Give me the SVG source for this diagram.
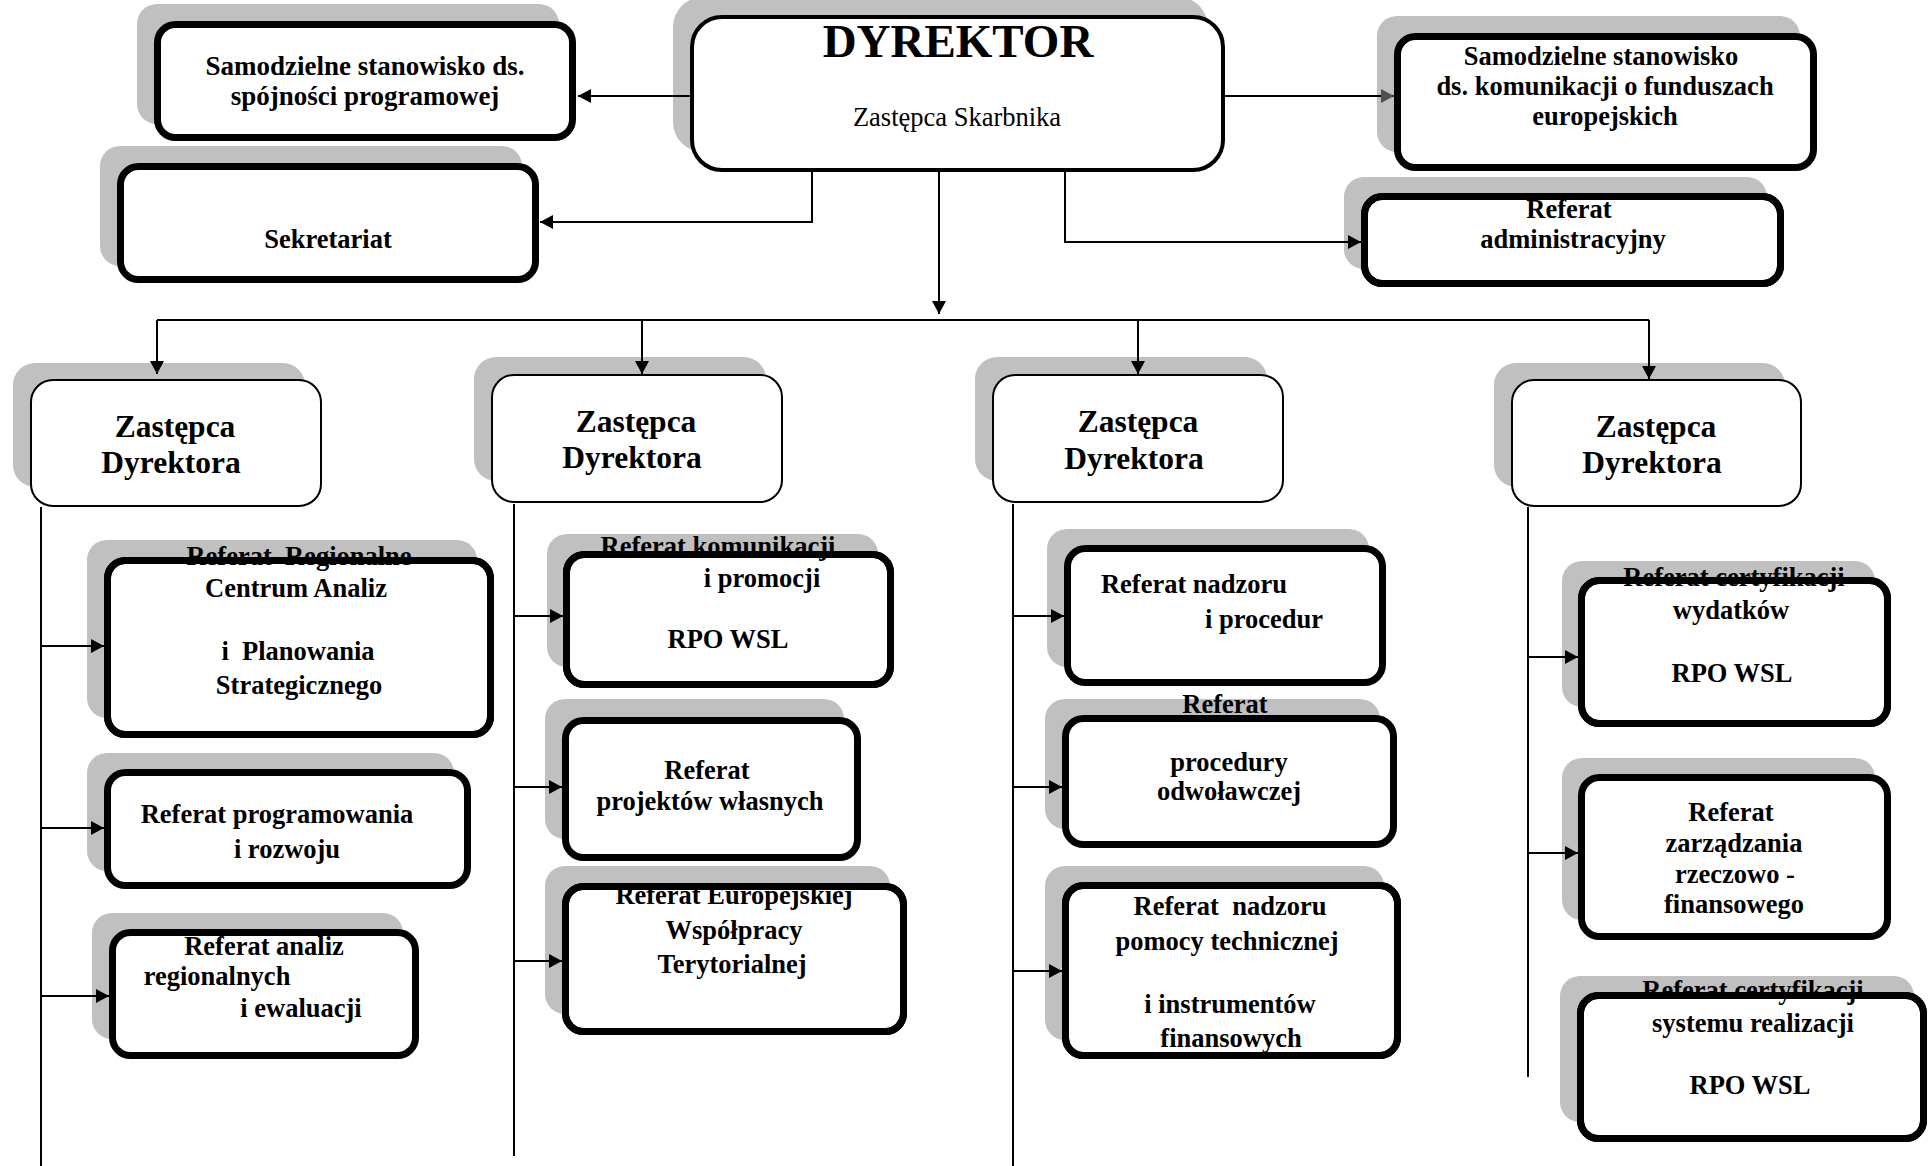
<svg xmlns="http://www.w3.org/2000/svg" width="1930" height="1166" viewBox="0 0 1930 1166">
<style>
.sh{fill:#c0c0c0}
.bx{fill:#fff;stroke:#000;stroke-width:7}
.ov{fill:none;stroke:#000;stroke-width:7}
.zd{fill:#fff;stroke:#000;stroke-width:2}
.dy{fill:#fff;stroke:#000;stroke-width:4}
.t{font-family:"Liberation Serif","Times New Roman",serif;font-weight:bold;font-size:26.5px;text-anchor:middle;fill:#000;white-space:pre}
.z{font-size:31.5px}
.r{font-weight:normal}
.c{fill:none;stroke:#000;stroke-width:2}
</style>
<defs>
<marker id="ah" markerUnits="userSpaceOnUse" markerWidth="14" markerHeight="14" refX="13" refY="7" orient="auto"><path d="M0,0 L13,7 L0,14 z" fill="#000"/></marker>
<marker id="ahg" markerUnits="userSpaceOnUse" markerWidth="14" markerHeight="14" refX="13" refY="7" orient="auto"><path d="M0,0 L13,7 L0,14 z" fill="#505050"/></marker>
</defs>
<rect width="1930" height="1166" fill="#fff"/>

<g id="dyrektor">
<rect class="sh" x="673" y="-3" width="535" height="155" rx="30"/>
<rect class="dy" x="692" y="17" width="531" height="153" rx="30"/>
<text class="t" x="958" y="57" style="font-size:47px">DYREKTOR</text>
<text class="t r" x="957" y="126">Zastępca Skarbnika</text>
</g>

<g id="spojnosci">
<rect class="sh" x="137" y="4" width="422" height="120" rx="20"/>
<rect class="bx" x="157.5" y="24.5" width="415" height="113" rx="18"/>
<text class="t" x="365" y="75" style="font-size:27px">Samodzielne stanowisko ds.</text>
<text class="t" x="365" y="105" style="font-size:27px">spójności programowej</text>
</g>

<g id="sekretariat">
<rect class="sh" x="100" y="146" width="422" height="120" rx="20"/>
<rect class="bx" x="120.5" y="166.5" width="415" height="113" rx="18"/>
<text class="t" x="328" y="248">Sekretariat</text>
</g>

<g id="komunikacji-fe">
<rect class="sh" x="1377" y="16" width="423" height="136" rx="20"/>
<rect class="bx" x="1397.5" y="36.5" width="416" height="131" rx="18"/>
<text class="t" x="1601" y="65">Samodzielne stanowisko</text>
<text class="t" x="1605" y="95">ds. komunikacji o funduszach</text>
<text class="t" x="1605" y="125">europejskich</text>
</g>

<g id="administracyjny">
<rect class="sh" x="1344" y="177" width="423" height="92" rx="20"/>
<rect class="bx" x="1364.5" y="196.5" width="416" height="87" rx="18"/>
<text class="t" x="1569" y="218">Referat</text>
<text class="t" x="1573" y="248">administracyjny</text>
<rect class="ov" x="1364.5" y="196.5" width="416" height="87" rx="18"/>
</g>

<g id="zastepca1">
<rect class="sh" x="13" y="363" width="292" height="124" rx="22"/>
<rect class="zd" x="31" y="380" width="290" height="126" rx="22"/>
<text class="t z" x="175" y="437">Zastępca</text>
<text class="t z" x="171" y="473">Dyrektora</text>
</g>
<g id="zastepca2">
<rect class="sh" x="474" y="357" width="292" height="124" rx="22"/>
<rect class="zd" x="492" y="375" width="290" height="127" rx="22"/>
<text class="t z" x="636" y="432">Zastępca</text>
<text class="t z" x="632" y="468">Dyrektora</text>
</g>
<g id="zastepca3">
<rect class="sh" x="975" y="357" width="292" height="124" rx="22"/>
<rect class="zd" x="993" y="375" width="290" height="127" rx="22"/>
<text class="t z" x="1138" y="432">Zastępca</text>
<text class="t z" x="1134" y="469">Dyrektora</text>
</g>
<g id="zastepca4">
<rect class="sh" x="1494" y="363" width="291" height="124" rx="22"/>
<rect class="zd" x="1512" y="380" width="289" height="126" rx="22"/>
<text class="t z" x="1656" y="437">Zastępca</text>
<text class="t z" x="1652" y="473">Dyrektora</text>
</g>

<g id="regionalne">
<rect class="sh" x="87" y="540" width="390" height="178" rx="20"/>
<rect class="bx" x="107.5" y="560.5" width="383" height="174" rx="18"/>
<text class="t" x="299" y="565">Referat  Regionalne</text>
<text class="t" x="296" y="597">Centrum Analiz</text>
<text class="t" x="298" y="660">i  Planowania</text>
<text class="t" x="299" y="694">Strategicznego</text>
<rect class="ov" x="107.5" y="560.5" width="383" height="174" rx="18"/>
</g>

<g id="programowania">
<rect class="sh" x="87" y="753" width="367" height="118" rx="20"/>
<rect class="bx" x="107.5" y="772.5" width="360" height="113" rx="18"/>
<text class="t" x="277" y="823">Referat programowania</text>
<text class="t" x="287" y="858">i rozwoju</text>
</g>

<g id="analiz">
<rect class="sh" x="92" y="913" width="311" height="126" rx="20"/>
<rect class="bx" x="112.5" y="932.5" width="303" height="123" rx="18"/>
<text class="t" x="264" y="955">Referat analiz</text>
<text class="t" x="217" y="985">regionalnych</text>
<text class="t" x="301" y="1017">i ewaluacji</text>
</g>

<g id="komunikacji-rpo">
<rect class="sh" x="547" y="534" width="331" height="133" rx="20"/>
<rect class="bx" x="566.5" y="554.5" width="324" height="130" rx="18"/>
<text class="t" x="718" y="555">Referat komunikacji</text>
<text class="t" x="762" y="587">i promocji</text>
<text class="t" x="728" y="648">RPO WSL</text>
<rect class="ov" x="566.5" y="554.5" width="324" height="130" rx="18"/>
</g>

<g id="projektow">
<rect class="sh" x="545" y="699" width="299" height="140" rx="20"/>
<rect class="bx" x="565.5" y="720.5" width="292" height="137" rx="18"/>
<text class="t" x="707" y="779">Referat</text>
<text class="t" x="710" y="810">projektów własnych</text>
</g>

<g id="europejskiej">
<rect class="sh" x="545" y="866" width="345" height="148" rx="20"/>
<rect class="bx" x="565.5" y="886.5" width="338" height="145" rx="18"/>
<text class="t" x="734" y="904">Referat Europejskiej</text>
<text class="t" x="734" y="939">Współpracy</text>
<text class="t" x="732" y="973">Terytorialnej</text>
<rect class="ov" x="565.5" y="886.5" width="338" height="145" rx="18"/>
</g>

<g id="nadzoru-procedur">
<rect class="sh" x="1047" y="529" width="322" height="138" rx="20"/>
<rect class="bx" x="1067.5" y="548.5" width="315" height="134" rx="18"/>
<text class="t" x="1194" y="593">Referat nadzoru</text>
<text class="t" x="1264" y="628">i procedur</text>
</g>

<g id="odwolawczej">
<rect class="sh" x="1045" y="699" width="335" height="130" rx="20"/>
<rect class="bx" x="1065.5" y="718.5" width="328" height="126" rx="18"/>
<text class="t" x="1225" y="713">Referat</text>
<text class="t" x="1229" y="771">procedury</text>
<text class="t" x="1229" y="800">odwoławczej</text>
</g>

<g id="pomocy">
<rect class="sh" x="1045" y="866" width="339" height="174" rx="20"/>
<rect class="bx" x="1065.5" y="885.5" width="332" height="170" rx="18"/>
<text class="t" x="1230" y="915">Referat  nadzoru</text>
<text class="t" x="1227" y="950">pomocy technicznej</text>
<text class="t" x="1230" y="1013">i instrumentów</text>
<text class="t" x="1231" y="1047">finansowych</text>
<rect class="ov" x="1065.5" y="885.5" width="332" height="170" rx="18"/>
</g>

<g id="cert-wydatkow">
<rect class="sh" x="1562" y="561" width="313" height="146" rx="20"/>
<rect class="bx" x="1581.5" y="580.5" width="306" height="143" rx="18"/>
<text class="t" x="1734" y="586">Referat certyfikacji</text>
<text class="t" x="1731" y="619">wydatków</text>
<text class="t" x="1732" y="682">RPO WSL</text>
<rect class="ov" x="1581.5" y="580.5" width="306" height="143" rx="18"/>
</g>

<g id="zarzadzania">
<rect class="sh" x="1562" y="758" width="313" height="162" rx="20"/>
<rect class="bx" x="1581.5" y="777.5" width="306" height="159" rx="18"/>
<text class="t" x="1731" y="821">Referat</text>
<text class="t" x="1734" y="852">zarządzania</text>
<text class="t" x="1735" y="883">rzeczowo -</text>
<text class="t" x="1734" y="913">finansowego</text>
</g>

<g id="cert-systemu">
<rect class="sh" x="1560" y="976" width="354" height="146" rx="20"/>
<rect class="bx" x="1580.5" y="995.5" width="343" height="143" rx="18"/>
<text class="t" x="1753" y="999">Referat certyfikacji</text>
<text class="t" x="1753" y="1032">systemu realizacji</text>
<text class="t" x="1750" y="1094">RPO WSL</text>
<rect class="ov" x="1580.5" y="995.5" width="343" height="143" rx="18"/>
</g>

<g id="connectors">
<path class="c" d="M690,96 H578" marker-end="url(#ah)"/>
<path class="c" d="M1225,96 H1394" marker-end="url(#ahg)"/>
<path class="c" d="M812,172 V222 H540" marker-end="url(#ah)"/>
<path class="c" d="M1065,172 V242 H1361" marker-end="url(#ah)"/>
<path class="c" d="M939,172 V314" marker-end="url(#ah)"/>
<path class="c" d="M157,320 H1649"/>
<path class="c" d="M157,320 V374" marker-end="url(#ah)"/>
<path class="c" d="M642,320 V374" marker-end="url(#ah)"/>
<path class="c" d="M1138,320 V374" marker-end="url(#ah)"/>
<path class="c" d="M1649,320 V379" marker-end="url(#ah)"/>
<path class="c" d="M41,507 V1166"/>
<path class="c" d="M514,504 V1156"/>
<path class="c" d="M1013,504 V1166"/>
<path class="c" d="M1528,507 V1077"/>
<path class="c" d="M41,646 H104" marker-end="url(#ah)"/>
<path class="c" d="M41,828 H104" marker-end="url(#ah)"/>
<path class="c" d="M41,996 H109" marker-end="url(#ah)"/>
<path class="c" d="M514,616 H563" marker-end="url(#ah)"/>
<path class="c" d="M514,787 H562" marker-end="url(#ah)"/>
<path class="c" d="M514,961 H562" marker-end="url(#ah)"/>
<path class="c" d="M1013,616 H1064" marker-end="url(#ah)"/>
<path class="c" d="M1013,787 H1062" marker-end="url(#ah)"/>
<path class="c" d="M1013,971 H1062" marker-end="url(#ah)"/>
<path class="c" d="M1528,657 H1578" marker-end="url(#ah)"/>
<path class="c" d="M1528,853 H1578" marker-end="url(#ah)"/>
</g>
</svg>
